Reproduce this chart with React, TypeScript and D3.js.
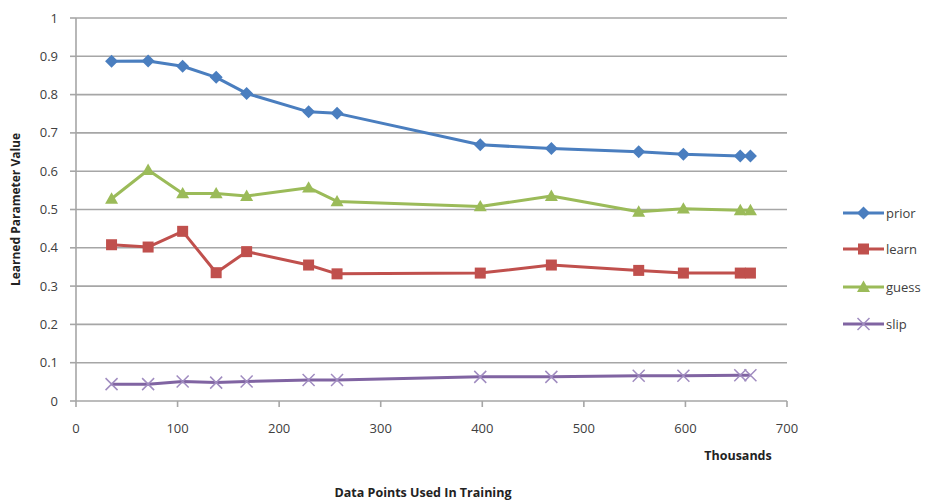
import React from "react";
import * as d3 from "d3";

const xValues = [35, 71, 105, 138, 168, 229, 257, 398, 468, 554, 598, 654, 664];
const prior = [0.887, 0.888, 0.874, 0.845, 0.803, 0.755, 0.751, 0.669, 0.659, 0.651, 0.644, 0.64, 0.64];
const learn = [0.408, 0.402, 0.443, 0.335, 0.39, 0.355, 0.332, 0.334, 0.355, 0.341, 0.334, 0.334, 0.334];
const guess = [0.528, 0.603, 0.542, 0.542, 0.535, 0.557, 0.521, 0.508, 0.535, 0.494, 0.502, 0.498, 0.498];
const slip = [0.044, 0.044, 0.051, 0.048, 0.051, 0.055, 0.055, 0.063, 0.063, 0.066, 0.066, 0.067, 0.067];
const yTicks = [0, 0.1, 0.2, 0.3, 0.4, 0.5, 0.6, 0.7, 0.8, 0.9, 1];
const xTicks = [0, 100, 200, 300, 400, 500, 600, 700];
const seriesNames = ["prior", "learn", "guess", "slip"];
const seriesColors = ["#4a7ebf", "#c0504d", "#9bbb59", "#8064a2"];
const seriesValues = [prior, learn, guess, slip];
const markerColors = ["#4a7ebf", "#c0504d", "#9bbb59", "#a08cc0"];

const FONT = "'Open Sans', 'Liberation Sans', sans-serif";

function Marker({ kind, cx, cy, color }: { kind: number; cx: number; cy: number; color: string }) {
  if (kind === 0) {
    const s = 6.5;
    return <path d={`M${cx},${cy - s}L${cx + s},${cy}L${cx},${cy + s}L${cx - s},${cy}Z`} fill={color} />;
  }
  if (kind === 1) {
    const s = 5.5;
    return <rect x={cx - s} y={cy - s} width={2 * s} height={2 * s} fill={color} />;
  }
  if (kind === 2) {
    const s = 6.5;
    return <path d={`M${cx},${cy - s}L${cx + s},${cy + s * 0.75}L${cx - s},${cy + s * 0.75}Z`} fill={color} />;
  }
  const s = 6;
  return (
    <path d={`M${cx - s},${cy - s}L${cx + s},${cy + s}M${cx + s},${cy - s}L${cx - s},${cy + s}`} stroke={color} strokeWidth={1.5} fill="none" />
  );
}

export default function App() {
  const x = d3.scaleLinear().domain([0, 700]).range([76, 787]);
  const y = d3.scaleLinear().domain([0, 1]).range([401, 18]);
  const line = d3
    .line<[number, number]>()
    .x((d) => x(d[0]))
    .y((d) => y(d[1]));

  return (
    <svg width={931} height={504} style={{ position: "absolute", left: 0, top: 0, background: "#fff" }} fontFamily={FONT}>
      {yTicks.map((t) => (
        <g key={t}>
          {t > 0 && <line x1={x(0)} x2={x(700)} y1={y(t)} y2={y(t)} stroke="#a6a6a6" strokeWidth={1.6} />}
          <line x1={x(0) - 6} x2={x(0)} y1={y(t)} y2={y(t)} stroke="#a6a6a6" strokeWidth={1.6} />
          <text x={58} y={y(t)} dy="0.35em" textAnchor="end" fontSize={13} fill="#404040">
            {t === 0 ? "0" : d3.format("")(t)}
          </text>
        </g>
      ))}
      <line x1={x(0)} x2={x(0)} y1={y(1)} y2={y(0)} stroke="#a6a6a6" strokeWidth={1.6} />
      <line x1={x(0)} x2={x(700)} y1={y(0)} y2={y(0)} stroke="#a6a6a6" strokeWidth={1.6} />
      {xTicks.map((t) => (
        <g key={t}>
          <line x1={x(t)} x2={x(t)} y1={y(0)} y2={y(0) + 6} stroke="#a6a6a6" strokeWidth={1.6} />
          <text x={x(t)} y={428} dy="0.35em" textAnchor="middle" fontSize={13} fill="#404040">
            {t}
          </text>
        </g>
      ))}
      {seriesValues.map((vals, i) => {
        const pts: [number, number][] = xValues.map((xv, j) => [xv, vals[j]]);
        return (
          <g key={seriesNames[i]}>
            <path d={line(pts) || ""} fill="none" stroke={seriesColors[i]} strokeWidth={3} strokeLinejoin="round" />
            {pts.map((p, j) => (
              <Marker key={j} kind={i} cx={x(p[0])} cy={y(p[1])} color={markerColors[i]} />
            ))}
          </g>
        );
      })}
      {seriesNames.map((n, i) => {
        const ly = [213, 249, 287, 324][i];
        return (
          <g key={n}>
            <line x1={843} x2={884} y1={ly} y2={ly} stroke={seriesColors[i]} strokeWidth={3} />
            <Marker kind={i} cx={863.5} cy={ly} color={markerColors[i]} />
            <text x={886} y={ly} dy="0.35em" fontSize={13} fill="#404040">
              {n}
            </text>
          </g>
        );
      })}
      <text transform={`translate(20,${y(0.5)}) rotate(-90)`} textAnchor="middle" fontSize={12} fontWeight="bold" fill="#222">
        Learned Parameter Value
      </text>
      <text x={738} y={456} dy="0.35em" textAnchor="middle" fontSize={12.5} fontWeight="bold" fill="#222">
        Thousands
      </text>
      <text x={423} y={493} dy="0.35em" textAnchor="middle" fontSize={12.5} fontWeight="bold" fill="#222">
        Data Points Used In Training
      </text>
    </svg>
  );
}
